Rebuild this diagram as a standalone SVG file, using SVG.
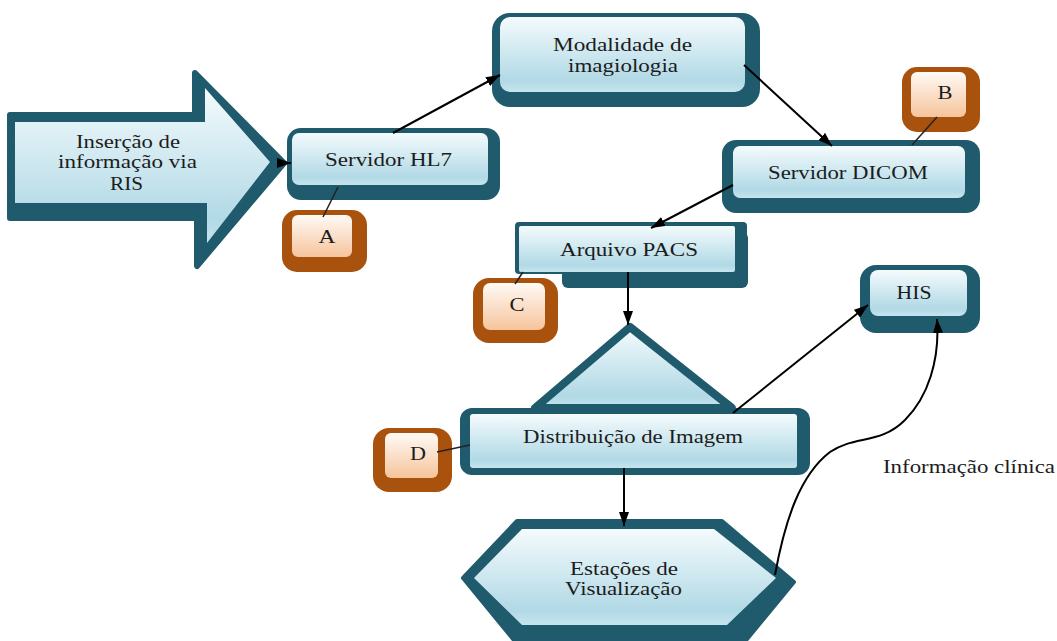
<svg xmlns="http://www.w3.org/2000/svg" width="1057" height="641" viewBox="0 0 1057 641" font-family="Liberation Serif, DejaVu Serif, serif">
<defs>
<linearGradient id="blue" x1="0" y1="0" x2="0" y2="1">
<stop offset="0" stop-color="#f4fbfd"/>
<stop offset="0.85" stop-color="#b1d9e6"/>
<stop offset="1" stop-color="#c6e5ee"/>
</linearGradient>
<linearGradient id="peach" x1="0" y1="0" x2="0" y2="1">
<stop offset="0" stop-color="#fffaf5"/>
<stop offset="1" stop-color="#f6c49c"/>
</linearGradient>
<marker id="ah" markerUnits="userSpaceOnUse" markerWidth="14" markerHeight="10" refX="14" refY="5" orient="auto">
<path d="M0,0 L14,5 L0,10 z" fill="#000"/>
</marker>
<style>
.dark{fill:#1f5b6c}
.darks{fill:#1f5b6c;stroke:#1f5b6c;stroke-linejoin:round}
.lt{fill:url(#blue)}
.bd{fill:#a8520e}
.bl{fill:url(#peach)}
.tx{font-family:'Liberation Serif','DejaVu Serif',serif;font-size:19px;fill:#1c1c1c;text-anchor:middle}
.c{fill:none;stroke:#000;stroke-width:2}
.t{fill:none;stroke:#222;stroke-width:1.5}
</style>
</defs>
<rect width="1057" height="641" fill="#ffffff"/>

<g id="ris">
<polygon class="darks" stroke-width="6" points="10,115 195,115 195,73 284,163 197,266 197,218 10,218"/>
<polygon class="lt" points="15,122 205,122 205,88 270,162 207,243 207,203 15,203"/>
<text class="tx" x="128" y="148" textLength="104" lengthAdjust="spacingAndGlyphs">Inserção de</text>
<text class="tx" x="127.5" y="168" textLength="139" lengthAdjust="spacingAndGlyphs">informação via</text>
<text class="tx" x="126.5" y="190" textLength="33" lengthAdjust="spacingAndGlyphs">RIS</text>
</g>

<g id="hl7">
<rect class="dark" x="287" y="128" width="213" height="72" rx="14"/>
<rect class="lt" x="292" y="133" width="196" height="52" rx="7"/>
<text class="tx" x="388.5" y="166" textLength="127" lengthAdjust="spacingAndGlyphs">Servidor HL7</text>
</g>

<g id="modalidade">
<rect class="dark" x="492" y="13" width="268" height="94" rx="18"/>
<rect class="lt" x="500" y="17" width="245" height="75" rx="10"/>
<text class="tx" x="622.5" y="51" textLength="139" lengthAdjust="spacingAndGlyphs">Modalidade de</text>
<text class="tx" x="623" y="72" textLength="110" lengthAdjust="spacingAndGlyphs">imagiologia</text>
</g>

<g id="dicom">
<rect class="dark" x="722" y="140" width="258" height="73" rx="14"/>
<rect class="lt" x="733" y="146" width="232" height="52" rx="7"/>
<text class="tx" x="848" y="179" textLength="160" lengthAdjust="spacingAndGlyphs">Servidor DICOM</text>
</g>

<g id="badge-b">
<rect class="bd" x="902" y="67" width="78" height="65" rx="15"/>
<rect class="bl" x="911" y="72" width="55" height="45" rx="6"/>
<text class="tx" x="945" y="99" textLength="15" lengthAdjust="spacingAndGlyphs">B</text>
</g>

<g id="badge-a">
<rect class="bd" x="282" y="210" width="85" height="62" rx="15"/>
<rect class="bl" x="292" y="215" width="60" height="42" rx="6"/>
<text class="tx" x="327" y="243" textLength="17" lengthAdjust="spacingAndGlyphs">A</text>
</g>

<g id="pacs">
<rect class="dark" x="562" y="232" width="186" height="56" rx="6"/>
<rect class="dark" x="515" y="222" width="232" height="52" rx="4"/>
<rect class="lt" x="519" y="226" width="216" height="46" rx="2"/>
<text class="tx" x="629" y="256" textLength="138" lengthAdjust="spacingAndGlyphs">Arquivo PACS</text>
</g>

<g id="badge-c">
<rect class="bd" x="473" y="278" width="85" height="65" rx="16"/>
<rect class="bl" x="483" y="283" width="62" height="47" rx="7"/>
<text class="tx" x="517" y="311" textLength="15" lengthAdjust="spacingAndGlyphs">C</text>
</g>

<g id="triangulo">
<polygon class="lt" stroke="#1f5b6c" stroke-width="8" stroke-linejoin="round" points="630,327 535,408 732,408"/>
</g>

<g id="distribuicao">
<rect class="dark" x="460" y="408" width="350" height="67" rx="12"/>
<rect class="lt" x="470" y="414" width="327" height="54" rx="3"/>
<text class="tx" x="633" y="443" textLength="220" lengthAdjust="spacingAndGlyphs">Distribuição de Imagem</text>
</g>

<g id="badge-d">
<rect class="bd" x="373" y="428" width="79" height="64" rx="16"/>
<rect class="bl" x="385" y="433" width="53" height="45" rx="6"/>
<text class="tx" x="418" y="460" textLength="16" lengthAdjust="spacingAndGlyphs">D</text>
</g>

<g id="his">
<rect class="dark" x="860" y="265" width="120" height="68" rx="16"/>
<rect class="lt" x="870" y="270" width="97" height="46" rx="8"/>
<text class="tx" x="914" y="299" textLength="35" lengthAdjust="spacingAndGlyphs">HIS</text>
</g>

<g id="estacoes">
<polygon class="darks" stroke-width="4" points="463,578 517,521 722,521 794,582 738,650 522,650"/>
<polygon class="lt" points="474,578 522,529 714,529 776,578 727,625 522,625"/>
<text class="tx" x="624" y="575" textLength="108" lengthAdjust="spacingAndGlyphs">Estações de</text>
<text class="tx" x="623.5" y="595" textLength="117" lengthAdjust="spacingAndGlyphs">Visualização</text>
</g>

<g id="rotulo">
<text class="tx" x="969" y="473" textLength="172" lengthAdjust="spacingAndGlyphs">Informação clínica</text>
</g>

<g id="connectors">
<line class="c" x1="277" y1="163" x2="291" y2="163" marker-end="url(#ah)"/>
<line class="c" x1="393" y1="133" x2="500" y2="75" marker-end="url(#ah)"/>
<line class="c" x1="744" y1="65" x2="832" y2="146" marker-end="url(#ah)"/>
<line class="c" x1="733" y1="185" x2="651" y2="228" marker-end="url(#ah)"/>
<line class="c" x1="628" y1="272" x2="628" y2="325" marker-end="url(#ah)"/>
<line class="c" x1="733" y1="413" x2="868" y2="305" marker-end="url(#ah)"/>
<line class="c" x1="624" y1="468" x2="624" y2="526" marker-end="url(#ah)"/>
<path class="c" d="M775,575 C785,520 800,475 830,452 C855,435 880,445 905,420 C928,397 940,360 937,319" marker-end="url(#ah)"/>
<line class="t" x1="338" y1="187" x2="323" y2="217"/>
<line class="t" x1="937" y1="117" x2="912" y2="145"/>
<line class="t" x1="523" y1="272" x2="515" y2="284"/>
<line class="t" x1="437" y1="452" x2="470" y2="445"/>
</g>
</svg>
